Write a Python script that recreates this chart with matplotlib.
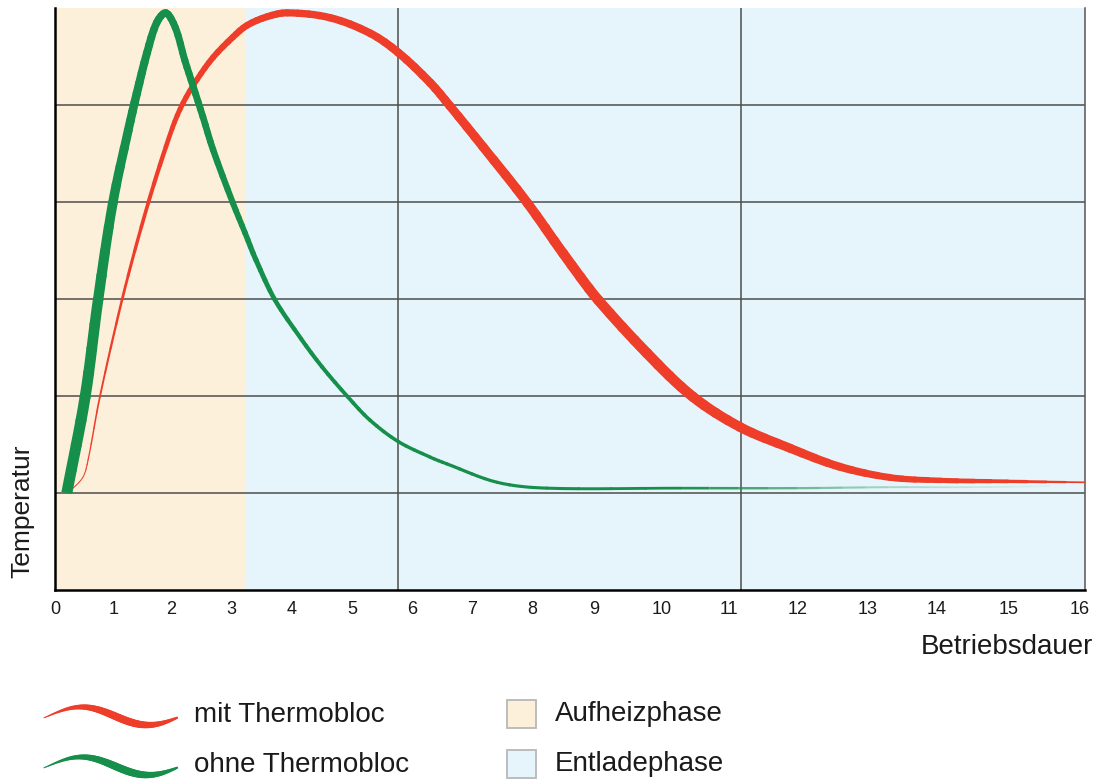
import numpy as np
import matplotlib
matplotlib.use("Agg")
import matplotlib.pyplot as plt
from matplotlib.collections import PathCollection
from matplotlib.patches import Rectangle
from matplotlib.path import Path
from matplotlib.colors import to_rgba

plt.rcParams['font.family'] = ['Liberation Sans', 'DejaVu Sans']

# x axis: hours and where each label sits along the axis (px from the left spine);
# the original spacing is not uniform, so a function scale reproduces it
hours = list(range(17))
tick_pos = [0, 59, 116, 176, 237, 297, 357, 417, 477, 539, 606, 674, 742, 812, 881, 953, 1024]
x_end = 16.08

heat_end = 3.25          # end of Aufheizphase
vgrid = [5.77, 11.18]
hgrid = [1, 2, 3, 4, 5]

# mit Thermobloc (red)
mit_t = [0.22, 0.47, 0.56, 0.76, 1.14, 1.60, 2.02, 2.20, 2.43, 2.70, 3.03, 3.26, 3.59, 3.92,
         4.63, 5.30, 5.77, 6.30, 6.63, 7.18, 7.92, 8.50, 9.06, 9.79, 10.47, 11.16, 11.90,
         12.61, 13.33, 14.06, 14.99, 16.08]
mit_temp = [1.00, 1.16, 1.34, 1.99, 2.99, 3.99, 4.76, 5.02, 5.26, 5.49, 5.70, 5.82, 5.91, 5.95,
            5.90, 5.74, 5.54, 5.23, 4.99, 4.57, 3.99, 3.47, 2.99, 2.44, 1.99, 1.68, 1.46,
            1.27, 1.16, 1.13, 1.12, 1.11]

# ohne Thermobloc (green)
ohne_t = [0.20, 0.51, 0.73, 0.98, 1.25, 1.40, 1.58, 1.75, 1.91, 2.07, 2.23, 2.37, 2.53, 2.70,
          3.03, 3.23, 3.41, 3.72, 4.15, 4.50, 4.93, 5.30, 5.77, 6.30, 6.58, 7.42, 8.24, 10.28,
          12.0, 13.3, 14.5, 15.6]
ohne_temp = [1.00, 1.99, 2.99, 3.99, 4.74, 5.12, 5.54, 5.85, 5.95, 5.80, 5.46, 5.19, 4.88, 4.54,
             3.99, 3.68, 3.40, 2.99, 2.59, 2.30, 1.99, 1.75, 1.53, 1.37, 1.30, 1.11, 1.05, 1.05,
             1.05, 1.06, 1.06, 1.07]

# stroke width (px) along each curve, the original tapers its lines
mit_w = [1, 1, 1.2, 1.8, 2.6, 3.8, 4.8, 5.2, 5.6, 6, 6.4, 6.7, 7, 7.2, 7.5, 7.8, 8.2, 8.6, 8.8,
         9.2, 9.6, 10, 10.3, 10.5, 10.3, 9.8, 9, 8, 6.8, 5.4, 3.6, 1.5]
ohne_w = [11, 11, 10.5, 9.6, 8.8, 8.4, 8, 7.6, 7.3, 7.2, 7.1, 7, 6.8, 6.5, 6.1, 5.6, 5.2, 4.6,
          4.2, 4.0, 3.8, 3.65, 3.5, 3.4, 3.3, 3.2, 3.1, 2.7, 2.3, 2, 1.8, 1.5]
ohne_alpha = [1] * 28 + [0.6, 0.3, 0.15, 0.05]

RED = '#ee3e2a'
GREEN = '#168f4b'
ORANGE_BG = '#fdf0db'
BLUE_BG = '#e6f5fc'
TXT = '#1a1a1a'

hx = np.array([-1] + hours + [17], float)
px = np.array([-59] + tick_pos + [1095], float)


def fwd(x):
    return np.interp(x, hx, px)


def inv(p):
    return np.interp(p, px, hx)


def split_cubic(c, t):
    a = c[0] + (c[1] - c[0]) * t
    b = c[1] + (c[2] - c[1]) * t
    e = c[2] + (c[3] - c[2]) * t
    ab = a + (b - a) * t
    be = b + (e - b) * t
    m = ab + (be - ab) * t
    return [c[0], a, ab, m], [m, be, e, c[3]]


def sub_cubic(c, t0, t1):
    left = split_cubic(c, t1)[0]
    return split_cubic(left, t0 / t1)[1] if t0 > 0 else left


def tapered(ax, x, y, widths, color, alphas=None, z=3, sx=64.0, sy=97.0,
            flat_start=False, nsub=4):
    # smooth bezier pieces through the points; each piece is cut in a few parts
    # so the stroke width can change gradually like in the original artwork
    P = np.column_stack([x, y]).astype(float)
    n = len(P)
    d = np.hypot(np.diff(P[:, 0]) * sx, np.diff(P[:, 1]) * sy)
    tt = np.concatenate([[0], np.cumsum(d)])
    M = np.empty_like(P)
    M[1:-1] = (P[2:] - P[:-2]) / (tt[2:] - tt[:-2])[:, None]
    M[0] = (P[1] - P[0]) / d[0]
    M[-1] = (P[-1] - P[-2]) / d[-1]
    w = np.asarray(widths, float)
    if alphas is None:
        alphas = [1] * n
    a = np.asarray(alphas, float)
    groups = {'round': ([], [], []), 'butt': ([], [], [])}
    codes = [Path.MOVETO, Path.CURVE4, Path.CURVE4, Path.CURVE4]
    for i in range(n - 1):
        h = d[i] / 3
        ctrl = [P[i], P[i] + M[i] * h, P[i + 1] - M[i + 1] * h, P[i + 1]]
        for k in range(nsub):
            t0, t1 = k / nsub, (k + 1) / nsub
            tm = (t0 + t1) / 2
            piece = sub_cubic(ctrl, t0, t1)
            alpha = a[i] + (a[i + 1] - a[i]) * tm
            lw = (w[i] + (w[i + 1] - w[i]) * tm) * 0.72
            cap = 'butt' if (alpha < 1 or (flat_start and i == 0 and k == 0)) else 'round'
            g = groups[cap]
            g[0].append(Path(np.array(piece), codes))
            g[1].append(to_rgba(color, alpha))
            g[2].append(lw)
    for cap, (paths, cols, lws) in groups.items():
        if paths:
            ax.add_collection(PathCollection(paths, facecolors='none', edgecolors=cols,
                                             linewidths=lws, capstyle=cap,
                                             joinstyle='round', zorder=z))


fig = plt.figure(figsize=(11.01, 7.81), dpi=100)
ax = fig.add_axes([55 / 1101, 191 / 781, 1030 / 1101, 582 / 781])
ax.set_xscale('function', functions=(fwd, inv))
ax.set_xlim(0, x_end)
ax.set_ylim(0, 6)

ax.axvspan(0, heat_end, color=ORANGE_BG, lw=0, zorder=0)
ax.axvspan(heat_end, x_end, color=BLUE_BG, lw=0, zorder=0)
for yv in hgrid:
    ax.axhline(yv, color='#4d4d4d', lw=1.1, zorder=1)
for xv in vgrid:
    ax.axvline(xv, color='#4d4d4d', lw=1.1, zorder=1)

tapered(ax, mit_t, mit_temp, mit_w, RED, z=3)
tapered(ax, ohne_t, ohne_temp, ohne_w, GREEN, ohne_alpha, z=4, flat_start=True)

ax.set_xticks(hours)
ax.set_xticklabels([str(h) for h in hours], fontsize=13, color=TXT)
ax.set_yticks([])
ax.tick_params(axis='x', length=0, pad=8)
ax.spines['top'].set_visible(False)
ax.spines['left'].set_linewidth(1.8)
ax.spines['bottom'].set_linewidth(1.8)
ax.spines['right'].set_color('#555555')
ax.spines['right'].set_linewidth(1.1)

fig.text(1093 / 1101, 1 - 647 / 781, 'Betriebsdauer', fontsize=20, color=TXT,
         ha='right', va='center')
fig.text(22 / 1101, 1 - 578 / 781, 'Temperatur', fontsize=19, color=TXT,
         rotation=90, ha='center', va='bottom')

# legend, drawn in pixel coordinates on an overlay
lg = fig.add_axes([0, 0, 1, 1], zorder=5)
lg.set_xlim(0, 1101)
lg.set_ylim(781, 0)
lg.axis('off')

t = np.linspace(0, 1, 30)
wave_x = 44 + 133 * t
wave_w = 1 + 6 * np.sin(np.pi * t ** 1.25) + 1.2 * t
for yc, col in [(716, RED), (766, GREEN)]:
    wave_y = yc - 9 * np.sin(2 * np.pi * t - 0.2)
    tapered(lg, wave_x, wave_y, wave_w, col, sx=1, sy=1, nsub=2)

lg.text(194, 715, 'mit Thermobloc', fontsize=20, color=TXT, va='center', ha='left')
lg.text(194, 765, 'ohne Thermobloc', fontsize=20, color=TXT, va='center', ha='left')
for yc, fc, lab in [(714, ORANGE_BG, 'Aufheizphase'), (764, BLUE_BG, 'Entladephase')]:
    lg.add_patch(Rectangle((507, yc - 14), 29, 28, facecolor=fc, edgecolor='#b8b8b8', lw=1.3))
    lg.text(555, yc, lab, fontsize=20, color=TXT, va='center', ha='left')

fig.savefig('out.png', dpi=100)
